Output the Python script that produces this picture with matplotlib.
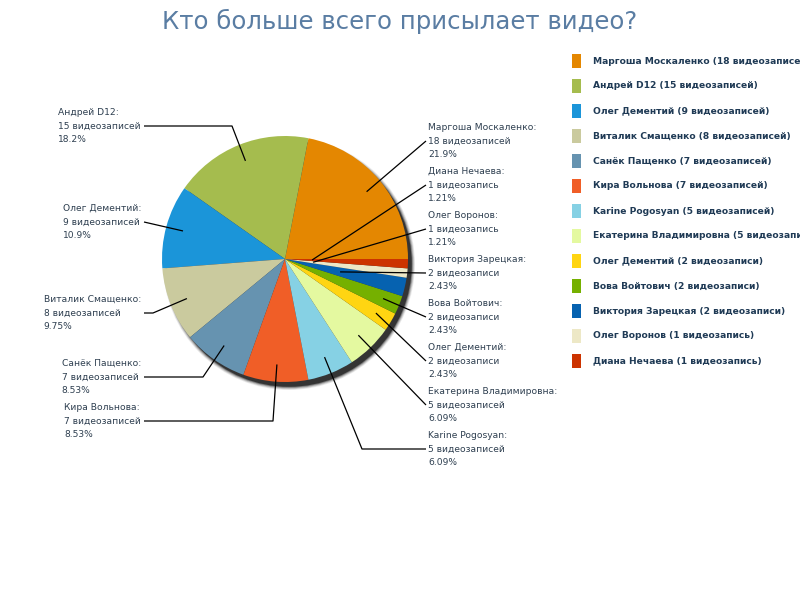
import numpy as np
import matplotlib.pyplot as plt
from matplotlib.patches import Rectangle, Circle

# данные
names = ["Маргоша Москаленко", "Андрей D12", "Олег Дементий", "Виталик Смащенко",
         "Санёк Пащенко", "Кира Вольнова", "Karine Pogosyan", "Екатерина Владимировна",
         "Олег Дементий", "Вова Войтович", "Виктория Зарецкая", "Олег Воронов", "Диана Нечаева"]
videos = [18, 15, 9, 8, 7, 7, 5, 5, 2, 2, 2, 1, 1]
colors = ["#e48701", "#a5bc4e", "#1b95d9", "#caca9e", "#6693b0", "#f05e27", "#86d1e4",
          "#e4f9a0", "#ffd512", "#75b000", "#0662b0", "#ede8c6", "#cc3300"]


def word(n):
    if n == 1:
        return "видеозапись"
    if 2 <= n <= 4:
        return "видеозаписи"
    return "видеозаписей"


def pct_str(p):
    # три значащие цифры, с отбрасыванием
    k = 2 - int(np.floor(np.log10(p)))
    v = np.floor(p * 10 ** k + 1e-9) / 10 ** k
    return f"{v:.{max(k, 0)}f}%"


total = sum(videos)
W, H = 800, 600
cx, cy, R = 285, H - 259, 123

fig = plt.figure(figsize=(8, 6), dpi=100)
ax = fig.add_axes([0, 0, 1, 1])

# тень
for k, a in enumerate([0.08, 0.12, 0.18, 0.3, 0.55]):
    ax.add_patch(Circle((cx + 4, cy - 5), R + 3 - k * 0.8, color="black", alpha=a, lw=0, zorder=1))

wedges, _ = ax.pie(videos, colors=colors, startangle=0, counterclock=True,
                   center=(cx, cy), radius=R, wedgeprops=dict(lw=0, zorder=2))

# подписи: (x текста, y средней строки в пикселях, выравнивание, доля радиуса, излом)
label_pos = [
    (428, 141, "left", 0.86, None),
    (141, 126, "right", 0.86, 232),
    (141, 222, "right", 0.86, None),
    (141, 313, "right", 0.86, 153),
    (141, 377, "right", 0.86, 203),
    (141, 421, "right", 0.86, 273),
    (428, 449, "left", 0.86, 362),
    (428, 405, "left", 0.86, None),
    (428, 361, "left", 0.86, None),
    (428, 317, "left", 0.86, None),
    (428, 273, "left", 0.46, None),
    (428, 229, "left", 0.23, None),
    (428, 185, "left", 0.22, None),
]
txt_col = "#2e3f50"
cum = 0
for i, (nm, v) in enumerate(zip(names, videos)):
    mid = np.deg2rad((cum + v / 2) / total * 360)
    cum += v
    tx, ty_px, ha, f, knee = label_pos[i]
    ty = H - ty_px
    px, py = cx + f * R * np.cos(mid), cy + f * R * np.sin(mid)
    ax.text(tx, ty, f"{nm}:\n{v} {word(v)}\n{pct_str(v / total * 100)}", ha=ha, va="center",
            multialignment="left", fontsize=6.6, color=txt_col, linespacing=1.65, zorder=4)
    lx = tx + 3 if ha == "right" else tx - 2
    if knee is None:
        xs, ys = [lx, px], [ty, py]
    else:
        xs, ys = [lx, knee, px], [ty, ty, py]
    ax.plot(xs, ys, color="black", lw=0.9, zorder=3, solid_capstyle="butt")

# легенда
for i, (nm, v, c) in enumerate(zip(names, videos, colors)):
    yy = H - (61 + 25 * i)
    ax.add_patch(Rectangle((572, yy - 7), 9, 14, color=c, lw=0))
    ax.text(593, yy, f"{nm} ({v} {word(v)})", ha="left", va="center",
            fontsize=6.6, fontweight="bold", color="#1f3a55")

ax.text(400, H - 21, "Кто больше всего присылает видео?", ha="center", va="center",
        fontsize=17.6, color="#5a7da3")

ax.set_xlim(0, W)
ax.set_ylim(0, H)
ax.set_aspect("auto")
ax.axis("off")
fig.savefig("out.png", dpi=100)
